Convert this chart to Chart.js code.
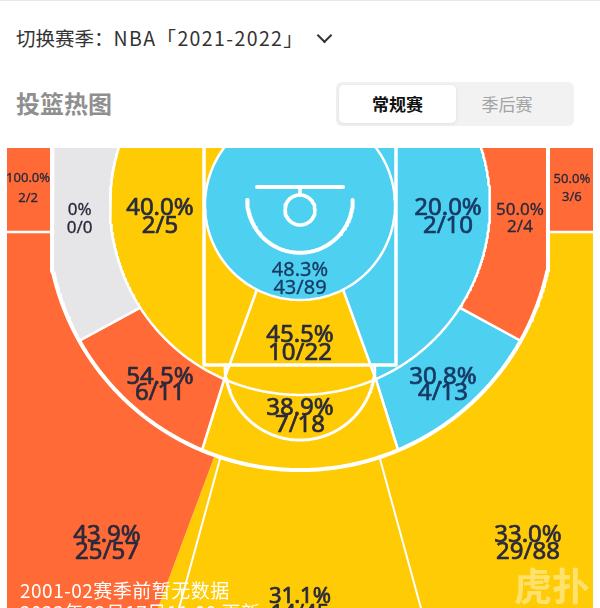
<!DOCTYPE html>
<html lang="zh">
<head>
<meta charset="utf-8">
<script src="https://cdn.jsdelivr.net/npm/chart.js@4.4.1/dist/chart.umd.min.js"></script>
<style>
  body { margin: 0; width: 600px; height: 608px; overflow: hidden; background: #fff; position: relative;
         font-family: "Noto Sans CJK SC", "Noto Sans", sans-serif; }
  .topline { position: absolute; left: 0; top: 0; width: 600px; height: 1px; background: #e8e8e8; }
  #season { position: absolute; left: 16px; top: 24px; font-size: 19.5px; line-height: 28px; color: #333; white-space: nowrap; }
  #season .latin { letter-spacing: 1.4px; }
  #season .arrow { display: inline-block; width: 9px; height: 9px; border-right: 2px solid #333; border-bottom: 2px solid #333;
                   transform: rotate(45deg); margin-left: 15px; position: relative; top: -5px; }
  #title { position: absolute; left: 16px; top: 88px; font-size: 24px; line-height: 30px; font-weight: 700; color: #8f8f8f; }
  #tabs { position: absolute; left: 336px; top: 82px; width: 238px; height: 44px; background: #f2f2f2; border-radius: 6px; }
  #tabs .on { position: absolute; left: 3px; top: 3px; width: 117px; height: 38px; background: #fff; border-radius: 5px;
              box-shadow: 0 1px 4px rgba(0,0,0,0.08); font-size: 17px; font-weight: 700; color: #111; text-align: center; line-height: 38px; }
  #tabs .off { position: absolute; left: 131px; top: 3px; width: 80px; font-size: 17px; color: #a3a3a3; text-align: center; line-height: 38px; }
  #court { position: absolute; left: 7px; top: 148px; }
  .note { position: absolute; left: 20px; color: #fff; font-size: 19px; line-height: 22px; letter-spacing: 0.5px; white-space: nowrap; z-index: 2; }
  .mark { position: absolute; left: 514px; top: 556px; color: rgba(255,255,255,0.42); font-size: 38px; font-weight: 700; z-index: 2; }
</style>
</head>
<body>
<div class="topline"></div>
<div id="season">切换赛季：<span class="latin">NBA「2021-2022」</span><span class="arrow"></span></div>
<div id="title">投篮热图</div>
<div id="tabs"><div class="on">常规赛</div><div class="off">季后赛</div></div>
<canvas id="court" width="586" height="460"></canvas>
<div class="note" style="top:579px">2001-02赛季前暂无数据</div>
<div class="note" style="top:601px">2022年03月17日11:00 更新</div>
<div class="mark">虎扑</div>

<script>
// shot zones
const zoneNames = ['左侧底角三分', '左侧底线中投', '左侧近距离', '篮下', '右侧近距离', '右侧底线中投', '右侧底角三分',
                   '罚球线内', '左侧45度中投', '罚球线中投', '右侧45度中投', '左侧三分', '右侧三分', '正面三分']
const made     = [2, 0, 2, 43, 2, 2, 3, 10, 6, 7, 4, 25, 29, 14]
const attempts = [2, 0, 5, 89, 10, 4, 6, 22, 11, 18, 13, 57, 88, 45]
const pctText  = ['100.0%', '0%', '40.0%', '48.3%', '20.0%', '50.0%', '50.0%', '45.5%', '54.5%', '38.9%', '30.8%', '43.9%', '33.0%', '31.1%']
const heat     = ['hot', 'none', 'avg', 'cold', 'cold', 'hot', 'hot', 'avg', 'hot', 'avg', 'cold', 'hot', 'avg', 'avg']

// look of the zones
const palette = { hot: '#FF6A36', avg: '#FFCB05', cold: '#4ED0F0', none: '#E6E6E8' }
const labelAt = [[-23.2, 3.41], [-18.8, 6.06], [-11.95, 5.89], [0, 11.18], [12.63, 5.89], [18.77, 6.0], [23.2, 3.41],
                 [0, 16.72], [-11.95, 20.22], [0, 22.9], [12.2, 20.22], [-16.47, 33.75], [19.45, 33.75], [0, 39.04]]
const labelSize = [13, 17, 24, 20, 24, 17, 13, 24, 24, 24, 24, 24, 24, 22]
const labelGap  = [20, 18, 18, 18, 18, 17, 18, 18, 16, 17, 16, 17, 17, 17]
const zoneLayer = [40, 30, 20, 10, 20, 30, 40, 20, 30, 30, 30, 50, 55, 55]
const zoneBorder = [2.5, 2.5, 2.5, 2.5, 2.5, 2.5, 2.5, 2.5, 2.5, 2.5, 2.5, 0, 0, 0]

// court geometry in feet, baseline at y = 0
const COURT_LEN = 39.25
const C = { x: 0, y: 4.86 }          // point the zone dividers fan out from
const R_RIM = 8.11, R_SHORT = 16.21
const ARC_Y = 5.89, ARC_R = 21.59, CORNER_X = 21.16, CORNER_Y = 7.17
const JOIN_Y = ARC_Y + Math.sqrt(ARC_R * ARC_R - CORNER_X * CORNER_X)
const BOX = { l: -26, r: 26, t: -2, b: 42 }
// dividers: angle (from straight down) where they leave the inner edge and reach the outer edge
const D_SHORT = [27, 23.5], D_MID = [23.5, 21.8], D_BASE = [57.3, 58.4], D_TOP = [180, 180]
const D_THREE = [17.5, 16.6], D_EDGE = [18.8, 19.5]
const neg = d => [-d[0], -d[1]]

function ray(deg, lim) {
    const a = deg * Math.PI / 180, s = Math.sin(a), c = Math.cos(a)
    let t = Infinity
    if (lim === 'three') {
        const w = C.y - ARC_Y, b = w * c
        const tA = -b + Math.sqrt(b * b - w * w + ARC_R * ARC_R)
        if (C.y + tA * c > JOIN_Y) t = tA
        else if (Math.abs(s) > 1e-9) t = CORNER_X / Math.abs(s)
    } else t = lim
    if (s > 1e-9) t = Math.min(t, (BOX.r - C.x) / s)
    if (s < -1e-9) t = Math.min(t, (BOX.l - C.x) / s)
    if (c > 1e-9) t = Math.min(t, (BOX.b - C.y) / c)
    if (c < -1e-9) t = Math.min(t, (BOX.t - C.y) / c)
    return { x: C.x + t * s, y: C.y + t * c }
}

function sweep(a0, a1, lim) {
    const n = Math.max(1, Math.ceil(Math.abs(a1 - a0) / 0.5))
    const pts = []
    for (let k = 0; k <= n; k++) pts.push(ray(a0 + (a1 - a0) * k / n, lim))
    return pts
}

function band(inner, outer, d1, d2) {
    return [C, ray(d1[0], inner), ...sweep(d1[1], d2[1], outer), ray(d2[0], inner), C]
}

function ring(cx, cy, r, a0, a1) {
    const pts = []
    for (let k = 0; k <= 120; k++) {
        const a = (a0 + (a1 - a0) * k / 120) * Math.PI / 180
        pts.push({ x: cx + r * Math.sin(a), y: cy + r * Math.cos(a) })
    }
    return pts
}

function corner(side) {
    const x0 = side * 26, x1 = side * CORNER_X
    return [{ x: x0, y: -2 }, { x: x1, y: -2 }, { x: x1, y: CORNER_Y }, { x: x0, y: CORNER_Y }, { x: x0, y: -2 }]
}

const shapes = [
    corner(-1),
    band(R_SHORT, 'three', neg(D_TOP), neg(D_BASE)),
    band(R_RIM, R_SHORT, neg(D_TOP), neg(D_SHORT)),
    ring(C.x, C.y, R_RIM, 0, 360),
    band(R_RIM, R_SHORT, D_SHORT, D_TOP),
    band(R_SHORT, 'three', D_BASE, D_TOP),
    corner(1),
    band(R_RIM, R_SHORT, neg(D_SHORT), D_SHORT),
    band(R_SHORT, 'three', neg(D_BASE), neg(D_MID)),
    band(R_SHORT, 'three', neg(D_MID), D_MID),
    band(R_SHORT, 'three', D_MID, D_BASE),
    band('three', Infinity, neg(D_TOP), neg(D_EDGE)),
    band('three', Infinity, D_THREE, D_TOP),
    band('three', Infinity, neg(D_EDGE), D_THREE)
]

const zoneSets = zoneNames.map((name, i) => ({
    label: name,
    data: shapes[i],
    order: zoneLayer[i],
    showLine: true,
    pointRadius: 0,
    borderColor: '#fff',
    borderWidth: zoneBorder[i],
    areaColor: palette[heat[i]]
}))

function courtLine(points, width) {
    return { label: 'court', data: points, order: 0, showLine: true, pointRadius: 0, borderColor: '#fff', borderWidth: width }
}

const courtSets = [
    courtLine([ray(-D_THREE[0], 'three'), ray(-D_THREE[1], Infinity)], 2),
    courtLine([ray(D_THREE[0], 'three'), ray(D_THREE[1], Infinity)], 2),
    courtLine(sweep(-180, 180, 'three'), 4),
    courtLine([{ x: -8.19, y: -1 }, { x: -8.19, y: 18.52 }, { x: 8.19, y: 18.52 }, { x: 8.19, y: -1 }], 3.5),
    courtLine(ring(0, 18.52, 6.4, -90, 90), 3),
    courtLine([{ x: -3.67, y: 3.33 }, { x: 3.67, y: 3.33 }], 4),
    courtLine([{ x: 0, y: 3.33 }, { x: 0, y: 4.0 }], 3.5),
    courtLine(ring(0, 5.29, 1.28, 0, 360), 3.5),
    courtLine(ring(0, 4.44, 4.5, -90, 90), 4)
]

const zoneFill = {
    id: 'zoneFill',
    beforeDatasetDraw(chart, args) {
        const ds = chart.data.datasets[args.index]
        if (!ds.areaColor) return
        const ctx = chart.ctx, a = chart.chartArea
        ctx.save()
        ctx.beginPath()
        ctx.rect(a.left, a.top, a.right - a.left, a.bottom - a.top)
        ctx.clip()
        ctx.beginPath()
        args.meta.data.forEach((p, k) => k ? ctx.lineTo(p.x, p.y) : ctx.moveTo(p.x, p.y))
        ctx.closePath()
        ctx.fillStyle = ds.areaColor
        ctx.fill()
        ctx.restore()
    }
}

const zoneLabels = {
    id: 'zoneLabels',
    afterDatasetsDraw(chart) {
        const ctx = chart.ctx, sx = chart.scales.x, sy = chart.scales.y
        ctx.save()
        ctx.textAlign = 'center'
        ctx.textBaseline = 'middle'
        ctx.lineJoin = 'round'
        zoneNames.forEach((name, i) => {
            const px = sx.getPixelForValue(labelAt[i][0])
            const py = sy.getPixelForValue(labelAt[i][1])
            const lines = [pctText[i], made[i] + '/' + attempts[i]]
            ctx.font = labelSize[i] + 'px "Noto Sans"'
            ctx.fillStyle = ctx.strokeStyle = heat[i] === 'cold' ? '#173a64' : '#2a2a3c'
            ctx.lineWidth = labelSize[i] > 20 ? 0.7 : 0.3
            lines.forEach((txt, k) => {
                const ly = py + (k ? 1 : -1) * labelGap[i] / 2
                ctx.fillText(txt, px, ly)
                ctx.strokeText(txt, px, ly)
            })
        })
        ctx.restore()
    }
}

new Chart(document.getElementById('court'), {
    type: 'scatter',
    data: { datasets: [...zoneSets, ...courtSets] },
    options: {
        responsive: false,
        animation: false,
        events: [],
        layout: { padding: 0 },
        elements: { line: { tension: 0, borderJoinStyle: 'round', borderCapStyle: 'round' } },
        scales: {
            x: { type: 'linear', min: -25, max: 25, display: false },
            y: { type: 'linear', min: 0, max: COURT_LEN, reverse: true, display: false }
        },
        plugins: { legend: { display: false }, tooltip: { enabled: false } }
    },
    plugins: [zoneFill, zoneLabels]
})
</script>
</body>
</html>
